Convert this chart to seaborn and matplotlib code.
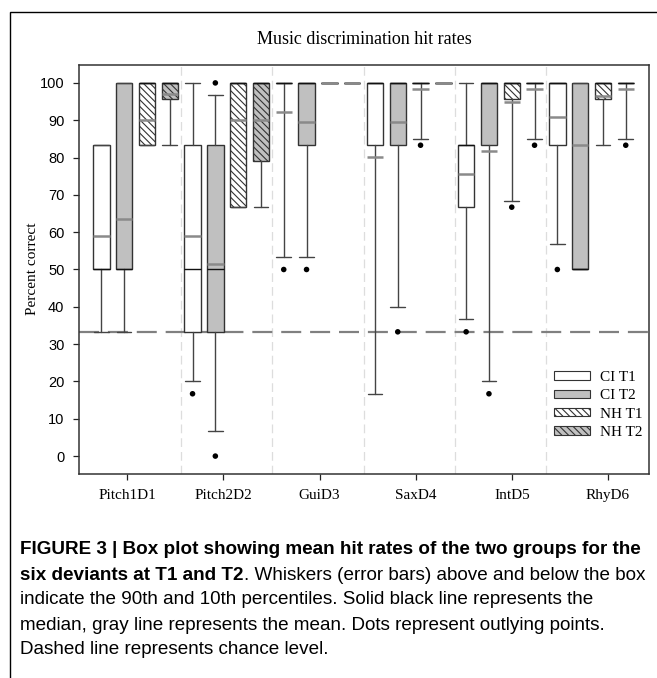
import matplotlib
matplotlib.use('Agg')
import matplotlib.pyplot as plt
import matplotlib.patches as mpatches
from matplotlib import font_manager
import seaborn as sns
import pandas as pd
import numpy as np

# ---- data ----
categories = ['Pitch1D1', 'Pitch2D2', 'GuiD3', 'SaxD4', 'IntD5', 'RhyD6']
groups = ['CI T1', 'CI T2', 'NH T1', 'NH T2']

ci_t1_q1 = [50, 33.3, 100, 83.3, 66.7, 83.3]
ci_t1_q3 = [83.3, 83.3, 100, 100, 83.3, 100]
ci_t1_med = [50, 50, 100, 100, 83.3, 100]
ci_t1_lo = [33.3, 20, 53.3, 16.7, 36.7, 56.7]
ci_t1_hi = [83.3, 100, 100, 100, 100, 100]
ci_t1_mean = [59.1, 59.1, 92.3, 80.2, 75.7, 90.8]
ci_t1_out = [[], [16.7], [50], [], [33.3], [50]]

ci_t2_q1 = [50, 33.3, 83.3, 83.3, 83.3, 50]
ci_t2_q3 = [100, 83.3, 100, 100, 100, 100]
ci_t2_med = [50, 50, 100, 100, 100, 50]
ci_t2_lo = [33.3, 6.7, 53.3, 40, 20, 50]
ci_t2_hi = [100, 96.7, 100, 100, 100, 100]
ci_t2_mean = [63.5, 51.5, 89.4, 89.4, 81.8, 83.3]
ci_t2_out = [[], [100, 0], [50], [33.3], [16.7], []]

nh_t1_q1 = [83.3, 66.7, 100, 100, 95.8, 95.8]
nh_t1_q3 = [100, 100, 100, 100, 100, 100]
nh_t1_med = [100, 100, 100, 100, 100, 100]
nh_t1_lo = [83.3, 66.7, 100, 85, 68.3, 83.3]
nh_t1_hi = [100, 100, 100, 100, 100, 100]
nh_t1_mean = [90, 90, 100, 98.3, 95.0, 96.5]
nh_t1_out = [[], [], [], [83.3], [66.7], []]

nh_t2_q1 = [95.8, 79.2, 100, 100, 100, 100]
nh_t2_q3 = [100, 100, 100, 100, 100, 100]
nh_t2_med = [100, 100, 100, 100, 100, 100]
nh_t2_lo = [83.3, 66.7, 100, 100, 85, 85]
nh_t2_hi = [100, 100, 100, 100, 100, 100]
nh_t2_mean = [97.0, 90, 100, 100, 98.3, 98.3]
nh_t2_out = [[], [], [], [], [83.3], [83.3]]

chance = 33.3

series = {
    'CI T1': (ci_t1_q1, ci_t1_q3, ci_t1_med, ci_t1_lo, ci_t1_hi, ci_t1_mean, ci_t1_out),
    'CI T2': (ci_t2_q1, ci_t2_q3, ci_t2_med, ci_t2_lo, ci_t2_hi, ci_t2_mean, ci_t2_out),
    'NH T1': (nh_t1_q1, nh_t1_q3, nh_t1_med, nh_t1_lo, nh_t1_hi, nh_t1_mean, nh_t1_out),
    'NH T2': (nh_t2_q1, nh_t2_q3, nh_t2_med, nh_t2_lo, nh_t2_hi, nh_t2_mean, nh_t2_out),
}

# ---- styles ----
fills = {'CI T1': 'white', 'CI T2': '#c0c0c0', 'NH T1': 'white', 'NH T2': '#c0c0c0'}
hatches = {'CI T1': None, 'CI T2': None, 'NH T1': '\\\\\\\\\\', 'NH T2': '\\\\\\\\\\'}
offsets = {'CI T1': -0.375, 'CI T2': -0.125, 'NH T1': 0.125, 'NH T2': 0.375}
edge = '#333333'
serif = 'Liberation Serif'
sans = 'Liberation Sans'

sns.set_style('ticks')
plt.rcParams['font.family'] = ['Liberation Serif', 'DejaVu Sans']
plt.rcParams['text.color'] = 'black'
plt.rcParams['xtick.color'] = 'black'
plt.rcParams['ytick.color'] = 'black'
plt.rcParams['hatch.linewidth'] = 0.8
plt.rcParams['hatch.color'] = edge

fig = plt.figure(figsize=(6.57, 6.78), dpi=100)
ax = fig.add_axes([79 / 657, 1 - 474 / 678, 570 / 657, 409 / 678])

x = np.arange(len(categories))

# light separators between categories and the chance line
for k in range(len(categories) - 1):
    ax.axvline(k + 0.5, color='#dddddd', lw=0.9, ls=(0, (7, 4)), zorder=0.5)
ax.axhline(chance, color='#808080', lw=1.6, ls=(0, (9, 4)), zorder=1)

flier_rows = []
for g in groups:
    q1, q3, med, lo, hi, mean, out = series[g]
    stats = []
    for i in range(len(categories)):
        stats.append({'q1': q1[i], 'q3': q3[i], 'med': med[i], 'whislo': lo[i],
                      'whishi': hi[i], 'mean': mean[i], 'fliers': []})
        for v in out[i]:
            flier_rows.append({'x': x[i] + offsets[g], 'y': v, 'group': g})
    res = ax.bxp(stats, positions=x + offsets[g], widths=0.18, capwidths=0.16,
                 patch_artist=True, showmeans=True, meanline=True, showfliers=False,
                 boxprops=dict(edgecolor=edge, linewidth=1.0),
                 whiskerprops=dict(color='#444444', linewidth=1.0),
                 capprops=dict(color='#444444', linewidth=1.0),
                 medianprops=dict(color='#111111', linewidth=1.0),
                 meanprops=dict(color='#8a8a8a', linewidth=1.8, linestyle='-'),
                 zorder=2)
    for b in res['boxes']:
        b.set_facecolor(fills[g])
        if hatches[g]:
            b.set_hatch(hatches[g])
    for m in res['means']:
        m.set_zorder(3)

fliers = pd.DataFrame(flier_rows)
sns.scatterplot(data=fliers, x='x', y='y', color='black', s=16, edgecolor='none',
                legend=False, ax=ax, zorder=4)

ax.set_xlim(-0.62, 5.63)
ax.set_ylim(-4.8, 104.8)
ax.set_yticks(range(0, 101, 10))
ax.set_xticks(np.linspace(-0.09, 5.18, len(categories)))
ax.set_xticklabels(categories, fontfamily=serif, fontsize=11)
for t in ax.get_yticklabels():
    t.set_fontfamily(sans)
    t.set_fontsize(10.5)
ax.tick_params(axis='y', direction='out', length=4.5, width=0.9, color='#222222', pad=6)
ax.tick_params(axis='x', direction='out', length=4.5, width=0.9, color='#222222', pad=6)
ax.set_xlabel('')
ax.set_ylabel('')
for s in ax.spines.values():
    s.set_visible(True)
    s.set_color(edge)
    s.set_linewidth(1.1)

fig.text(33 / 657, 1 - 269 / 678, 'Percent correct', rotation=90, ha='center', va='center',
         fontfamily=serif, fontsize=11)
fig.text(364 / 657, 1 - 40 / 678, 'Music discrimination hit rates', ha='center', va='center',
         fontfamily=serif, fontsize=13)

handles = [mpatches.Patch(facecolor=fills[g], edgecolor=edge, hatch=hatches[g], lw=0.8, label=g)
           for g in groups]
ax.legend(handles=handles, loc='center left', bbox_to_anchor=(0.833, 0.169), frameon=False,
          prop={'family': serif, 'size': 11}, handlelength=2.4, handleheight=0.45,
          handletextpad=0.6, labelspacing=0.35, borderpad=0, borderaxespad=0)

# figure frame
fig.add_artist(mpatches.Rectangle((10 / 657, -0.02), 1.0, 1 - 12 / 678 + 0.02,
                                  transform=fig.transFigure, fill=False, edgecolor='black',
                                  lw=1.0, clip_on=False))

# caption
names = {f.name for f in font_manager.fontManager.ttflist}
cap_font = 'Liberation Sans Narrow' if 'Liberation Sans Narrow' in names else 'Liberation Sans'
renderer = fig.canvas.get_renderer()
line1 = 'FIGURE 3 | Box plot showing mean hit rates of the two groups for the'
probe = fig.text(0, 0, line1, fontfamily=cap_font, fontweight='bold', fontsize=12)
w = probe.get_window_extent(renderer).width
probe.remove()
cap_size = 12 * 618 / w

x0 = 20 / 657
ys = [550, 575, 600, 625, 650]
fig.text(x0, 1 - ys[0] / 678, line1, fontfamily=cap_font, fontweight='bold',
         fontsize=cap_size, va='center')
b = fig.text(x0, 1 - ys[1] / 678, 'six deviants at T1 and T2', fontfamily=cap_font,
             fontweight='bold', fontsize=cap_size, va='center')
bx = b.get_window_extent(renderer).x1 / fig.bbox.width
fig.text(bx, 1 - ys[1] / 678, '. Whiskers (error bars) above and below the box',
         fontfamily=cap_font, fontsize=cap_size, va='center')
rest = ['indicate the 90th and 10th percentiles. Solid black line represents the',
        'median, gray line represents the mean. Dots represent outlying points.',
        'Dashed line represents chance level.']
for yy, line in zip(ys[2:], rest):
    fig.text(x0, 1 - yy / 678, line, fontfamily=cap_font, fontsize=cap_size, va='center')

fig.savefig('out.png', dpi=100)
